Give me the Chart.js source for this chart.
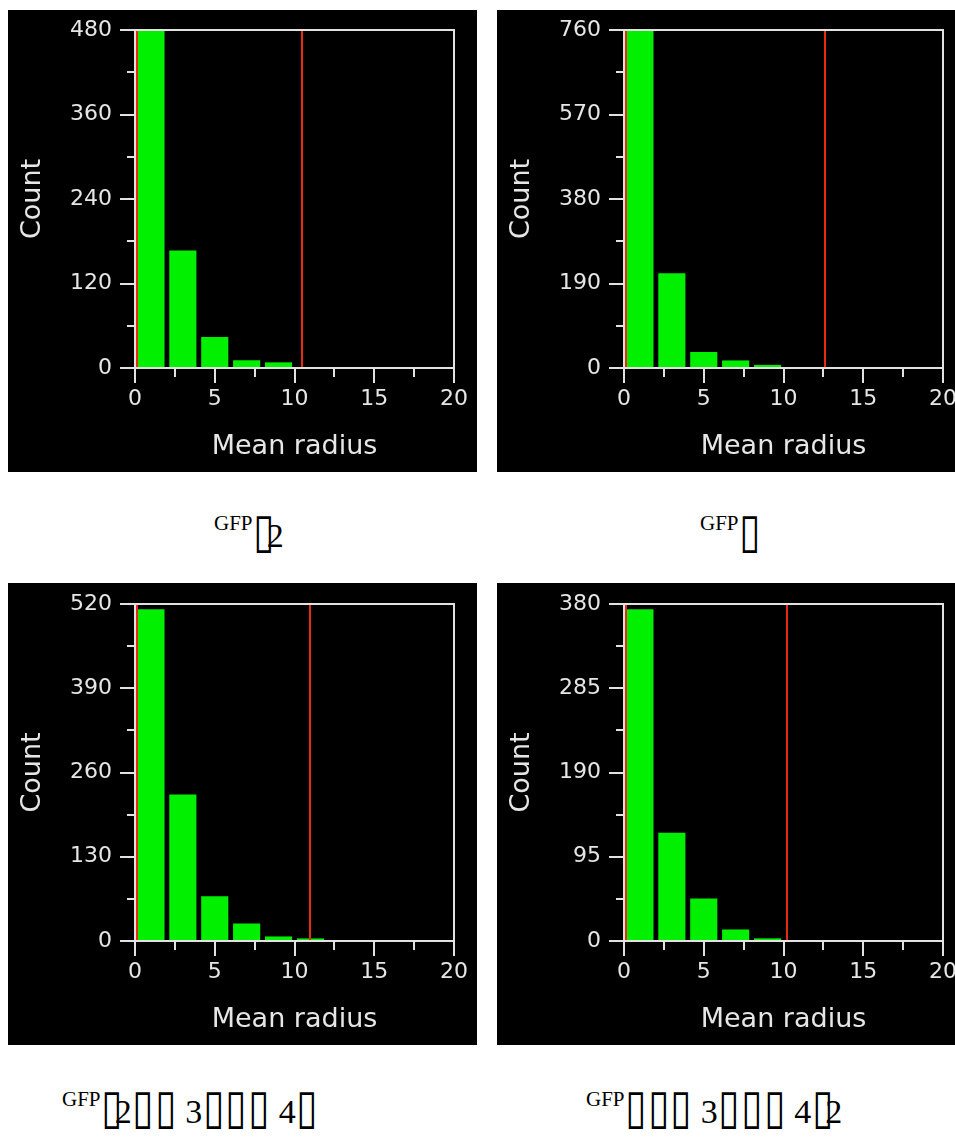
<!DOCTYPE html>
<html>
<head>
<meta charset="utf-8">
<script src="https://cdn.jsdelivr.net/npm/chart.js@4/dist/chart.umd.min.js"></script>
<style>
  body { margin: 0; background: #fff; width: 955px; height: 1140px; position: relative; overflow: hidden; }
  canvas { position: absolute; background: #000; }
  .cap { position: absolute; font-family: "Liberation Serif", serif; font-size: 34px; line-height: 34px; color: #000; white-space: nowrap; }
  .cap .sup { font-size: 21px; position: relative; top: -17px; }
  .cap .b { font-family: "DejaVu Sans", sans-serif; font-size: 32px; display: inline-block; transform: scale(1.2, 1.5); transform-origin: 50% 80%; margin: 0 2.5px; }
  .cap .ov { margin-right: -6px; }
</style>
</head>
<body>
<canvas id="c1" style="left:8px;top:10px" width="469" height="462"></canvas>
<canvas id="c2" style="left:497px;top:10px" width="458" height="462"></canvas>
<canvas id="c3" style="left:8px;top:583px" width="469" height="462"></canvas>
<canvas id="c4" style="left:497px;top:583px" width="458" height="462"></canvas>

<div class="cap" style="left:214px;top:519px"><span class="sup">GFP</span><span class="b ov">▯</span>2</div>
<div class="cap" style="left:700px;top:519px"><span class="sup">GFP</span><span class="b">▯</span></div>
<div class="cap" style="left:62px;top:1095px"><span class="sup">GFP</span><span class="b ov">▯</span>2<span class="b">▯</span><span class="b">▯</span> 3<span class="b">▯</span><span class="b">▯</span><span class="b">▯</span> 4<span class="b">▯</span></div>
<div class="cap" style="left:586px;top:1095px"><span class="sup">GFP</span><span class="b">▯</span><span class="b">▯</span><span class="b">▯</span> 3<span class="b">▯</span><span class="b">▯</span><span class="b">▯</span> 4<span class="b ov">▯</span>2</div>

<script>
// histogram bins (width 2), centres on the Mean radius axis
const binCenters = [1, 3, 5, 7, 9, 11];

const countsA = [480, 167, 44, 11, 8];
const countsB = [760, 213, 36, 17, 7];
const countsC = [512, 226, 69, 27, 7, 4];
const countsD = [374, 122, 48, 13, 3];

const yTicksA = [0, 120, 240, 360, 480];
const yTicksB = [0, 190, 380, 570, 760];
const yTicksC = [0, 130, 260, 390, 520];
const yTicksD = [0, 95, 190, 285, 380];

const xTicks = [0, 5, 10, 15, 20];

// red cut-off lines
const cutoffs = [10.45, 12.6, 11.0, 10.2];

const frameColor = "#e2e2e2";
const redColor = "#e82a10";

const framePlugin = {
    id: "frame",
    afterDatasetsDraw(chart, args, opts) {
        const ctx = chart.ctx;
        const a = chart.chartArea;
        const xs = chart.scales.x;
        const ys = chart.scales.y;

        ctx.save();
        ctx.strokeStyle = frameColor;
        ctx.lineWidth = 2;
        ctx.strokeRect(a.left, a.top, a.right - a.left, a.bottom - a.top);

        // major + minor tick marks
        const yt = ys.ticks.map(t => t.value);
        ctx.beginPath();
        yt.forEach((v, i) => {
            const y = Math.round(ys.getPixelForValue(v));
            ctx.moveTo(a.left - 15, y);
            ctx.lineTo(a.left, y);
            if (i < yt.length - 1) {
                const ym = Math.round(ys.getPixelForValue((v + yt[i + 1]) / 2));
                ctx.moveTo(a.left - 8, ym);
                ctx.lineTo(a.left, ym);
            }
        });
        xTicks.forEach((v, i) => {
            const x = Math.round(xs.getPixelForValue(v));
            ctx.moveTo(x, a.bottom);
            ctx.lineTo(x, a.bottom + 15);
            if (i < xTicks.length - 1) {
                const xm = Math.round(xs.getPixelForValue((v + xTicks[i + 1]) / 2));
                ctx.moveTo(xm, a.bottom);
                ctx.lineTo(xm, a.bottom + 9);
            }
        });
        ctx.stroke();

        // red lines at 0 and at the cut-off
        ctx.strokeStyle = redColor;
        ctx.beginPath();
        const x0 = xs.getPixelForValue(0) + 2;
        ctx.moveTo(x0, a.top + 1);
        ctx.lineTo(x0, a.bottom - 1);
        const xc = Math.round(xs.getPixelForValue(opts.cutoff));
        ctx.moveTo(xc, a.top + 1);
        ctx.lineTo(xc, a.bottom - 1);
        ctx.stroke();
        ctx.restore();
    }
};

function makeChart(id, counts, yTicks, cutoff, padRight, padTop) {

    const ctx = document.getElementById(id).getContext("2d");

    new Chart(ctx, {

        type: "bar",

        data: {
            datasets: [{
                data: counts.map((c, i) => ({ x: binCenters[i], y: c })),
                backgroundColor: "#00f000",
                borderWidth: 0,
                barPercentage: 0.85,
                categoryPercentage: 1
            }]
        },

        options: {
            responsive: false,
            animation: false,
            events: [],
            layout: {
                padding: { left: 0, top: padTop, right: padRight, bottom: 0 }
            },
            plugins: {
                legend: { display: false },
                tooltip: { enabled: false },
                frame: { cutoff: cutoff }
            },
            scales: {
                x: {
                    type: "linear",
                    min: 0,
                    max: 20,
                    offset: false,
                    afterBuildTicks: s => { s.ticks = xTicks.map(v => ({ value: v })); },
                    afterFit: s => { s.height = 104; s.paddingLeft = 0; s.paddingRight = 0; },
                    grid: { display: false, drawTicks: false },
                    border: { display: false },
                    ticks: {
                        color: "#e6e6e6",
                        padding: 18,
                        maxRotation: 0,
                        autoSkip: false,
                        font: { family: "DejaVu Sans", size: 22 }
                    },
                    title: {
                        display: true,
                        text: "Mean radius",
                        color: "#e6e6e6",
                        padding: { top: 0, bottom: 9 },
                        font: { family: "DejaVu Sans", size: 27 }
                    }
                },
                y: {
                    min: 0,
                    max: yTicks[yTicks.length - 1],
                    afterBuildTicks: s => { s.ticks = yTicks.map(v => ({ value: v })); },
                    afterFit: s => { s.width = 127; s.paddingTop = 0; s.paddingBottom = 0; },
                    grid: { display: false, drawTicks: false },
                    border: { display: false },
                    ticks: {
                        color: "#e6e6e6",
                        padding: 23,
                        autoSkip: false,
                        font: { family: "DejaVu Sans", size: 22 }
                    },
                    title: {
                        display: true,
                        text: "Count",
                        color: "#e6e6e6",
                        padding: { top: 9, bottom: 0 },
                        font: { family: "DejaVu Sans", size: 27 }
                    }
                }
            }
        },

        plugins: [framePlugin]

    });

}

makeChart("c1", countsA, yTicksA, cutoffs[0], 23, 20);
makeChart("c2", countsB, yTicksB, cutoffs[1], 12, 20);
makeChart("c3", countsC, yTicksC, cutoffs[2], 23, 21);
makeChart("c4", countsD, yTicksD, cutoffs[3], 12, 21);
</script>
</body>
</html>
